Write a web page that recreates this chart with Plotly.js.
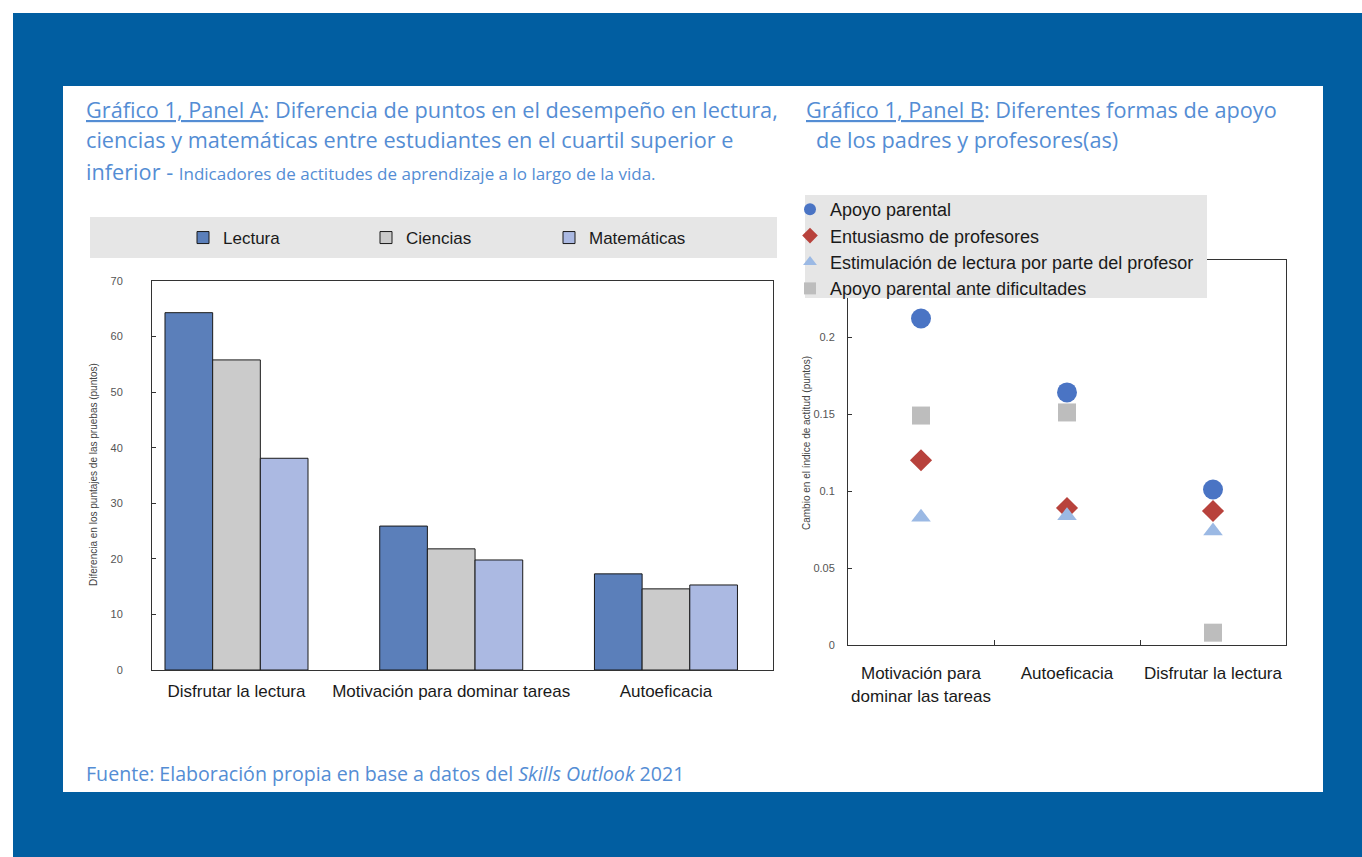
<!DOCTYPE html>
<html>
<head>
<meta charset="utf-8">
<script src="https://cdn.plot.ly/plotly-3.0.1.min.js"></script>
<style>
  html, body { margin: 0; padding: 0; background: #ffffff; }
  #chart { width: 1362px; height: 857px; }
</style>
</head>
<body>
<div id="chart"></div>
<script>
// ---------- Data ----------
const categoriesA = ['Disfrutar la lectura', 'Motivación para dominar tareas', 'Autoeficacia'];
const lectura = [64.3, 25.9, 17.3];
const ciencias = [55.8, 21.8, 14.6];
const matematicas = [38.1, 19.8, 15.3];
const seriesNamesA = ['Lectura', 'Ciencias', 'Matemáticas'];
const yTicksA = [0, 10, 20, 30, 40, 50, 60, 70];

const categoriesB = ['Motivación para<br>dominar las tareas', 'Autoeficacia', 'Disfrutar la lectura'];
const apoyoParental = [0.212, 0.164, 0.101];
const entusiasmoProfesores = [0.120, 0.089, 0.087];
const estimulacionLectura = [0.083, 0.084, 0.074];
const apoyoDificultades = [0.149, 0.151, 0.008];
const seriesNamesB = ['Apoyo parental', 'Entusiasmo de profesores',
  'Estimulación de lectura por parte del profesor', 'Apoyo parental ante dificultades'];
const yTicksB = [0, 0.05, 0.1, 0.15, 0.2];
const yTickTextB = ['0', '0.05', '0.1', '0.15', '0.2'];

// ---------- Layout helpers (pixel -> paper) ----------
const W = 1362, H = 857;
const px = x => x / W;
const py = y => 1 - y / H;

const narrow = 'Liberation Sans Narrow, Arial Narrow, Liberation Sans, Arial, sans-serif';
const titleFont = 'Open Sans, Noto Sans, sans-serif';
const titleColor = '#548DD4';

const traces = [
  { type: 'bar', name: seriesNamesA[0], x: categoriesA, y: lectura, xaxis: 'x', yaxis: 'y',
    marker: { color: '#5b7fba', line: { color: '#1a1a1a', width: 1 } }, legend: 'legend' },
  { type: 'bar', name: seriesNamesA[1], x: categoriesA, y: ciencias, xaxis: 'x', yaxis: 'y',
    marker: { color: '#cbcbcb', line: { color: '#1a1a1a', width: 1 } }, legend: 'legend' },
  { type: 'bar', name: seriesNamesA[2], x: categoriesA, y: matematicas, xaxis: 'x', yaxis: 'y',
    marker: { color: '#abb9e2', line: { color: '#1a1a1a', width: 1 } }, legend: 'legend' },

  { type: 'scatter', mode: 'markers', name: seriesNamesB[0], x: categoriesB, y: apoyoParental,
    xaxis: 'x2', yaxis: 'y2', legend: 'legend2',
    marker: { symbol: 'circle', size: 20, color: '#4a74c4' } },
  { type: 'scatter', mode: 'markers', name: seriesNamesB[1], x: categoriesB, y: entusiasmoProfesores,
    xaxis: 'x2', yaxis: 'y2', legend: 'legend2',
    marker: { symbol: 'diamond', size: 17, color: '#b8423c' } },
  { type: 'scatter', mode: 'markers', name: seriesNamesB[2], x: categoriesB, y: estimulacionLectura,
    xaxis: 'x2', yaxis: 'y2', legend: 'legend2',
    marker: { symbol: 'triangle-up', size: 17, color: '#9bb9e4' } },
  { type: 'scatter', mode: 'markers', name: seriesNamesB[3], x: categoriesB, y: apoyoDificultades,
    xaxis: 'x2', yaxis: 'y2', legend: 'legend2',
    marker: { symbol: 'square', size: 18, color: '#bdbdbd' } }
];

const layout = {
  width: W, height: H,
  margin: { l: 0, r: 0, t: 0, b: 0, pad: 0 },
  paper_bgcolor: '#ffffff',
  showlegend: true,
  barmode: 'group',
  bargap: 0.334,
  bargroupgap: 0,
  xaxis: {
    domain: [px(152), px(773)],
    anchor: 'y',
    type: 'category',
    range: [-0.3935, 2.4985],
    showline: true, mirror: true, linecolor: '#333333', linewidth: 1,
    ticks: '', showgrid: false, zeroline: false,
    tickangle: 0,
    tickfont: { family: narrow, size: 17, color: '#1a1a1a' },
    ticklabelstandoff: 6,
    fixedrange: true
  },
  yaxis: {
    domain: [py(670), py(281)],
    anchor: 'x',
    range: [0, 70],
    tickvals: yTicksA,
    showline: true, mirror: true, linecolor: '#333333', linewidth: 1,
    ticks: 'inside', ticklen: 4, tickcolor: '#333333',
    showgrid: false, zeroline: false,
    tickfont: { family: narrow, size: 11, color: '#555555' },
    ticklabelstandoff: 26,
    fixedrange: true
  },
  plot_bgcolor: '#f5fbfd',
  xaxis2: {
    domain: [px(848), px(1286)],
    anchor: 'y2',
    type: 'category',
    range: [-0.5, 2.5],
    showline: true, mirror: true, linecolor: '#333333', linewidth: 1,
    ticks: 'inside', tickson: 'boundaries', ticklen: 5, tickcolor: '#333333',
    showgrid: false, zeroline: false,
    tickangle: 0,
    tickfont: { family: narrow, size: 17, color: '#1a1a1a' },
    ticklabelstandoff: 13,
    fixedrange: true
  },
  yaxis2: {
    domain: [py(645), py(260)],
    anchor: 'x2',
    range: [0, 0.25],
    tickvals: yTicksB,
    ticktext: yTickTextB,
    showline: true, mirror: true, linecolor: '#333333', linewidth: 1,
    ticks: 'inside', ticklen: 4, tickcolor: '#333333',
    showgrid: false, zeroline: false,
    tickfont: { family: narrow, size: 11, color: '#555555' },
    ticklabelstandoff: 10,
    fixedrange: true
  },
  legend: {
    orientation: 'h',
    x: px(183), xanchor: 'left',
    y: py(238), yanchor: 'middle',
    bgcolor: 'rgba(0,0,0,0)',
    font: { family: narrow, size: 17, color: '#1a1a1a' },
    entrywidth: 138, entrywidthmode: 'pixels',
    itemwidth: 30,
    traceorder: 'normal'
  },
  legend2: {
    orientation: 'v',
    x: px(790), xanchor: 'left',
    y: py(191), yanchor: 'top',
    bgcolor: 'rgba(0,0,0,0)',
    font: { family: narrow, size: 18, color: '#1a1a1a' },
    itemsizing: 'constant',
    itemwidth: 30,
    tracegroupgap: 0,
    traceorder: 'normal'
  },
  shapes: [
    { type: 'rect', xref: 'paper', yref: 'paper', x0: px(13), x1: px(1362), y0: py(857), y1: py(13),
      fillcolor: '#015ea1', line: { width: 0 }, layer: 'below' },
    { type: 'rect', xref: 'paper', yref: 'paper', x0: px(63), x1: px(1323), y0: py(792), y1: py(86),
      fillcolor: '#ffffff', line: { width: 0 }, layer: 'below' },
    { type: 'rect', xref: 'paper', yref: 'paper', x0: px(90), x1: px(777), y0: py(258), y1: py(217),
      fillcolor: '#e6e6e6', line: { width: 0 }, layer: 'below' },
    { type: 'rect', xref: 'paper', yref: 'paper', x0: px(805), x1: px(1207), y0: py(298), y1: py(195),
      fillcolor: '#e6e6e6', line: { width: 0 }, layer: 'above' }
  ],
  annotations: [
    { xref: 'paper', yref: 'paper', x: px(84), y: py(109), xanchor: 'left', yanchor: 'middle', showarrow: false,
      text: '<u>Gráfico 1, Panel A</u>: Diferencia de puntos en el desempeño en lectura,',
      font: { family: titleFont, size: 21.7, color: titleColor } },
    { xref: 'paper', yref: 'paper', x: px(84), y: py(140), xanchor: 'left', yanchor: 'middle', showarrow: false,
      text: 'ciencias y matemáticas entre estudiantes en el cuartil superior e',
      font: { family: titleFont, size: 21.7, color: titleColor } },
    { xref: 'paper', yref: 'paper', x: px(84), y: py(172), xanchor: 'left', yanchor: 'middle', showarrow: false,
      text: 'inferior - <span style="font-size:17px">Indicadores de actitudes de aprendizaje a lo largo de la vida.</span>',
      font: { family: titleFont, size: 21.7, color: titleColor } },
    { xref: 'paper', yref: 'paper', x: px(804), y: py(109), xanchor: 'left', yanchor: 'middle', showarrow: false,
      text: '<u>Gráfico 1, Panel B</u>: Diferentes formas de apoyo',
      font: { family: titleFont, size: 21.7, color: titleColor } },
    { xref: 'paper', yref: 'paper', x: px(814), y: py(140), xanchor: 'left', yanchor: 'middle', showarrow: false,
      text: 'de los padres y profesores(as)',
      font: { family: titleFont, size: 21.7, color: titleColor } },
    { xref: 'paper', yref: 'paper', x: px(84), y: py(773), xanchor: 'left', yanchor: 'middle', showarrow: false,
      text: 'Fuente: Elaboración propia en base a datos del <i>Skills Outlook</i> 2021',
      font: { family: titleFont, size: 19.6, color: titleColor } },
    { xref: 'paper', yref: 'paper', x: px(93), y: py(475), xanchor: 'center', yanchor: 'middle', showarrow: false,
      textangle: -90,
      text: 'Diferencia en los puntajes de las pruebas (puntos)',
      font: { family: narrow, size: 10, color: '#444444' } },
    { xref: 'paper', yref: 'paper', x: px(806), y: py(443), xanchor: 'center', yanchor: 'middle', showarrow: false,
      textangle: -90,
      text: 'Cambio en el índice de actitud (puntos)',
      font: { family: narrow, size: 10, color: '#444444' } }
  ]
};

Plotly.newPlot('chart', traces, layout, { staticPlot: true, displayModeBar: false });
</script>
</body>
</html>
